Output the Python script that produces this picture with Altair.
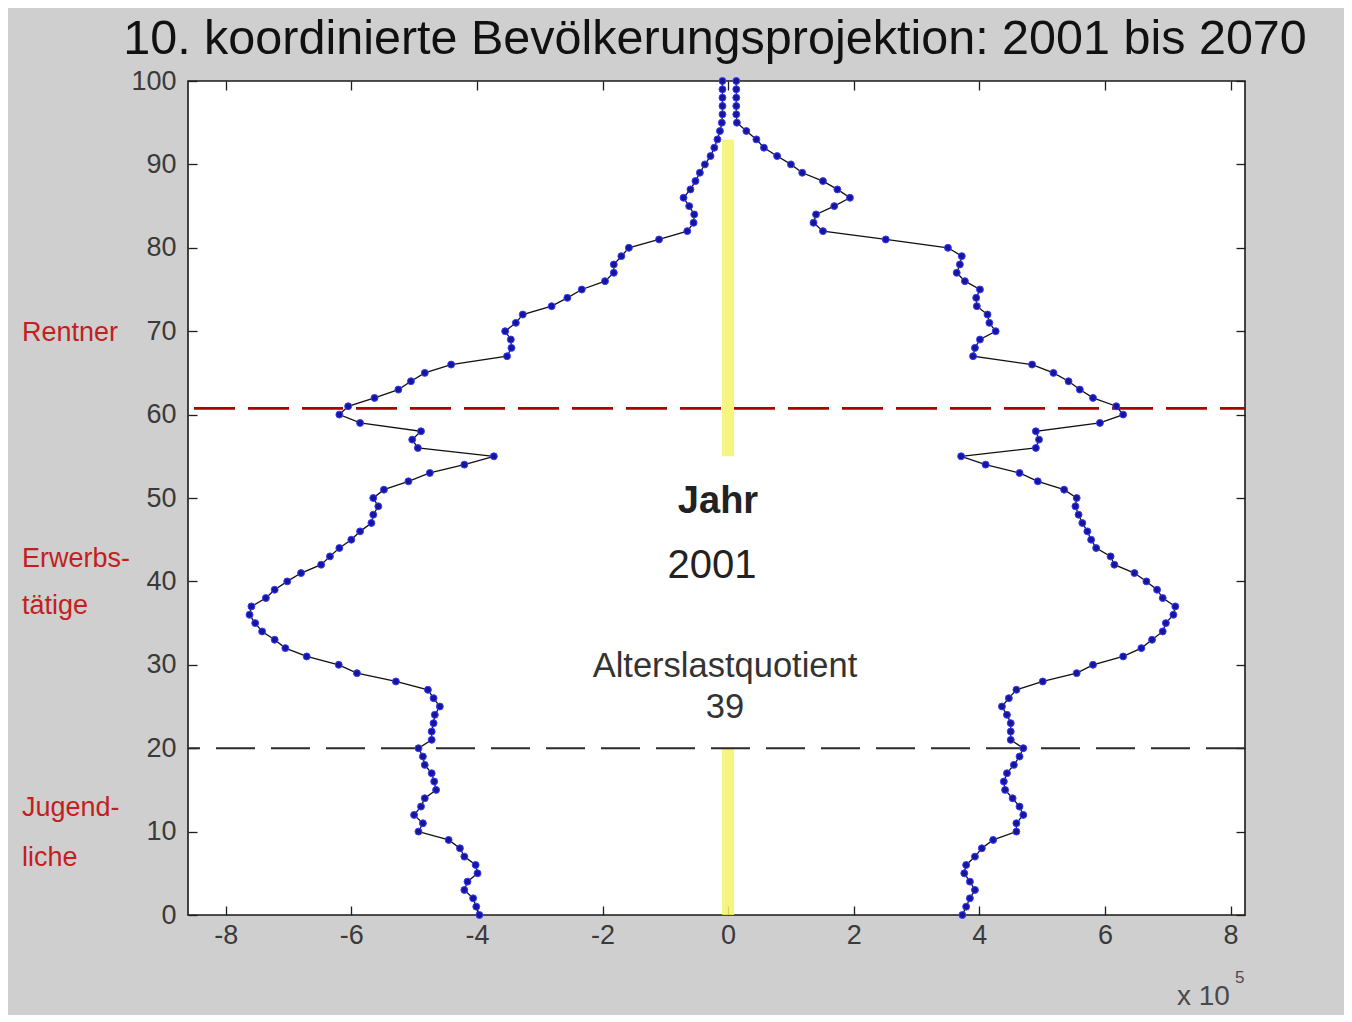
import altair as alt
import pandas as pd

# ---------------- data (values in units of 10^5 persons) ----------------
ages = list(range(0, 101))

left_values = [
    -3.96, -4.01, -4.06, -4.20, -4.15, -3.99, -4.02, -4.20, -4.27, -4.45,   # 0-9
    -4.93, -4.86, -5.00, -4.89, -4.83, -4.65, -4.68, -4.72, -4.83, -4.86,   # 10-19
    -4.93, -4.72, -4.72, -4.69, -4.67, -4.59, -4.69, -4.78, -5.29, -5.91,   # 20-29
    -6.20, -6.71, -7.05, -7.22, -7.42, -7.53, -7.62, -7.59, -7.36, -7.22,   # 30-39
    -7.02, -6.80, -6.48, -6.34, -6.19, -6.00, -5.86, -5.68, -5.65, -5.57,   # 40-49
    -5.65, -5.48, -5.09, -4.75, -4.20, -3.73, -4.94, -5.03, -4.89, -5.86,   # 50-59
    -6.19, -6.05, -5.63, -5.25, -5.05, -4.83, -4.41, -3.52, -3.45, -3.46,   # 60-69
    -3.55, -3.38, -3.27, -2.81, -2.56, -2.33, -1.96, -1.82, -1.82, -1.70,   # 70-79
    -1.58, -1.10, -0.65, -0.55, -0.54, -0.62, -0.71, -0.60, -0.52, -0.45,   # 80-89
    -0.37, -0.28, -0.22, -0.17, -0.13, -0.10, -0.09, -0.09, -0.09, -0.09,   # 90-99
    -0.09,                                                                  # 100
]

right_values = [
    3.73, 3.79, 3.85, 3.93, 3.85, 3.76, 3.79, 3.93, 4.04, 4.22,   # 0-9
    4.59, 4.59, 4.70, 4.64, 4.53, 4.41, 4.39, 4.44, 4.55, 4.64,   # 10-19
    4.70, 4.50, 4.50, 4.50, 4.44, 4.36, 4.47, 4.59, 5.01, 5.55,   # 20-29
    5.81, 6.29, 6.58, 6.75, 6.92, 6.97, 7.09, 7.12, 6.92, 6.83,   # 30-39
    6.66, 6.47, 6.15, 6.09, 5.86, 5.78, 5.72, 5.64, 5.58, 5.53,   # 40-49
    5.55, 5.35, 4.93, 4.64, 4.10, 3.71, 4.90, 4.95, 4.90, 5.92,   # 50-59
    6.29, 6.18, 5.81, 5.60, 5.42, 5.18, 4.84, 3.90, 3.93, 4.01,   # 60-69
    4.26, 4.16, 4.13, 3.96, 3.95, 4.01, 3.77, 3.64, 3.69, 3.72,   # 70-79
    3.50, 2.51, 1.51, 1.36, 1.40, 1.69, 1.94, 1.74, 1.51, 1.18,   # 80-89
    1.00, 0.78, 0.57, 0.45, 0.29, 0.14, 0.13, 0.13, 0.13, 0.13,   # 90-99
    0.13,                                                         # 100
]

x_ticks = [-8, -6, -4, -2, 0, 2, 4, 6, 8]
y_ticks = [0, 10, 20, 30, 40, 50, 60, 70, 80, 90, 100]
x_domain = [-8.6, 8.23]
y_domain = [0, 100]

youth_limit = [20]
retire_limit = [60.75]
marker_start = [0, 55]
marker_end = [20, 93]

title_text = "10. koordinierte Bevölkerungsprojektion: 2001 bis 2070"
year_label = "Jahr"
year_value = "2001"
ratio_label = "Alterslastquotient"
ratio_value = "39"

FONT = "Liberation Sans"

# ---------------- tables ----------------
pyramid = pd.DataFrame({
    "age": ages * 2,
    "value": left_values + right_values,
    "side": ["links"] * len(ages) + ["rechts"] * len(ages),
})
markers = pd.DataFrame({"start": marker_start, "end": marker_end})

xs = alt.Scale(domain=x_domain, nice=False, zero=False)
ys = alt.Scale(domain=y_domain, nice=False, zero=False)

tick_common = dict(domain=False, grid=False, tickSize=9, offset=-9,
                   tickColor="#1e1e1e", tickWidth=1.3, title=None)

bottom_axis = alt.Axis(values=x_ticks, labelFont=FONT, labelFontSize=27,
                       labelColor="#3a3a3a", labelPadding=7,
                       labelExpr="'' + datum.value", labelFlush=False,
                       labelOverlap=False, **tick_common)
left_axis = alt.Axis(values=y_ticks, labelFont=FONT, labelFontSize=27,
                     labelColor="#3a3a3a", labelPadding=12,
                     labelFlush=False, labelOverlap=False, **tick_common)
top_axis = alt.Axis(orient="top", values=x_ticks, labels=False, **tick_common)
right_axis = alt.Axis(orient="right", values=y_ticks, labels=False, **tick_common)

# yellow marker at zero
yellow = alt.Chart(markers).mark_rule(color="#f3f36a", strokeWidth=12, opacity=0.85).encode(
    x=alt.XDatum(0, scale=xs, axis=None),
    y=alt.Y("start:Q", scale=ys, axis=None),
    y2="end:Q",
)

youth_rule = alt.Chart(pd.DataFrame({"y": youth_limit})).mark_rule(
    color="#2a2a2a", strokeWidth=2, strokeDash=[39, 16]
).encode(y=alt.Y("y:Q", scale=ys, axis=None))

retire_rule = alt.Chart(pd.DataFrame({"y": retire_limit})).mark_rule(
    color="#b00000", strokeWidth=2.6, strokeDash=[41, 13], strokeDashOffset=16
).encode(y=alt.Y("y:Q", scale=ys, axis=None))

lines = alt.Chart(pyramid).mark_line(color="#111111", strokeWidth=1.3).encode(
    x=alt.X("value:Q", scale=xs, axis=bottom_axis),
    y=alt.Y("age:Q", scale=ys, axis=left_axis),
    detail="side:N",
    order="age:Q",
)

dots = alt.Chart(pyramid).mark_circle(size=48, color="#16169a", opacity=1,
                                      stroke="#3b3bff", strokeWidth=1).encode(
    x=alt.X("value:Q", scale=xs, axis=None),
    y=alt.Y("age:Q", scale=ys, axis=None),
)

frame = alt.Chart(pyramid).mark_point(opacity=0).encode(
    x=alt.X("value:Q", scale=xs, axis=top_axis),
    y=alt.Y("age:Q", scale=ys, axis=right_axis),
)


def label(text, x, y, size, color="#222222", align="center", weight="normal"):
    return alt.Chart(pd.DataFrame({"t": [text]})).mark_text(
        font=FONT, fontSize=size, color=color, align=align,
        baseline="alphabetic", fontWeight=weight,
    ).encode(text="t:N", x=alt.value(x), y=alt.value(y))


RED = "#c41e1e"
texts = [
    label(title_text, 527, -27, 48.5, color="#111111"),
    label(year_label, 530, 432, 38, weight="bold"),
    label(year_value, 524, 497, 40),
    label(ratio_label, 537, 596, 34.5, color="#333333"),
    label(ratio_value, 537, 637, 34.5, color="#333333"),
    label("Rentner", -166, 260, 27, color=RED, align="left"),
    label("Erwerbs-", -166, 486, 27, color=RED, align="left"),
    label("tätige", -166, 533, 27, color=RED, align="left"),
    label("Jugend-", -166, 735, 27, color=RED, align="left"),
    label("liche", -166, 785, 27, color=RED, align="left"),
    label("x 10", 989, 924, 28, color="#4a4a4a", align="left"),
    label("5", 1047, 902, 17, color="#4a4a4a", align="left"),
]

chart = alt.layer(
    yellow, youth_rule, retire_rule, lines, dots, frame, *texts
).resolve_axis(
    x="independent", y="independent"
).properties(
    width=1057, height=834,
    autosize=alt.AutoSizeParams(type="none"),
    padding={"left": 180, "top": 73, "right": 99, "bottom": 100},
    background="#cfcfcf",
).configure_view(
    fill="white", stroke="#1a1a1a", strokeWidth=1.6
)

chart.save("out.html", embed_options={"renderer": "svg", "actions": False})
